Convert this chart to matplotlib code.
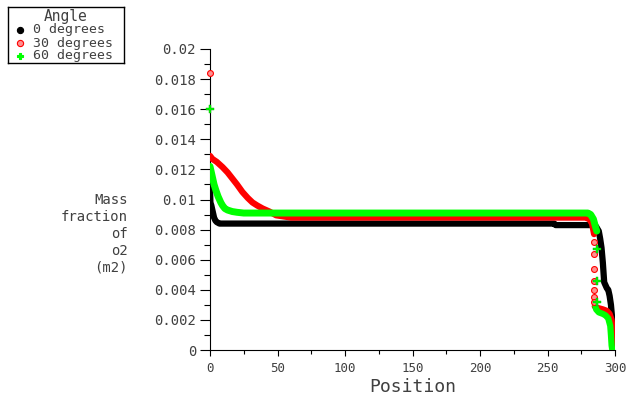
import matplotlib
matplotlib.use('Agg')
from matplotlib import pyplot as plt

matplotlib.rcParams['font.family'] = ['DejaVu Sans Mono']

# 0 degrees
black_pos = [0, 0.3, 1, 2, 3, 4, 5, 7, 50, 150, 255, 256, 283, 286, 288, 289,
             290, 291, 292, 294, 295, 296, 297, 298, 299]
black_val = [0.0107, 0.0098, 0.0096, 0.0092, 0.0088, 0.0086, 0.0085, 0.0084,
             0.0084, 0.0084, 0.0084, 0.0083, 0.0083, 0.0082, 0.0079, 0.0074,
             0.0068, 0.0058, 0.0045, 0.0041, 0.0040, 0.0036, 0.0030, 0.0020, 0.0]

# 30 degrees
red_pos_a = [0, 1.7, 5, 9.3, 13, 16.5, 20, 24, 28, 31.5, 35, 39, 44, 49, 60,
             150, 278, 281, 283, 284.5]
red_val_a = [0.0129, 0.0127, 0.0125, 0.01215, 0.0118, 0.0114, 0.0110, 0.0105,
             0.0101, 0.0098, 0.0096, 0.0094, 0.0092, 0.00895, 0.0088, 0.0088,
             0.0088, 0.0087, 0.0084, 0.0077]
red_pos_b = [285, 287, 291, 294, 296, 297.5, 298.5, 299]
red_val_b = [0.0029, 0.0028, 0.0027, 0.0026, 0.0024, 0.0020, 0.0010, 0.0]
red_pts_pos = [0, 284.7, 284.7, 284.7, 284.7, 284.7, 284.7, 284.7]
red_pts_val = [0.0184, 0.0072, 0.0064, 0.0054, 0.0046, 0.0040, 0.0035, 0.0032]

# 60 degrees
green_pos_a = [0, 1, 2, 3, 4.4, 6, 8, 9.3, 11, 13, 16.5, 20, 25, 50, 150,
               280, 282, 284, 285.5, 286.5]
green_val_a = [0.0122, 0.0118, 0.0114, 0.0110, 0.0106, 0.0102, 0.0098, 0.0096,
               0.0094, 0.0093, 0.0092, 0.00915, 0.0091, 0.0091, 0.0091,
               0.0091, 0.0090, 0.0087, 0.0082, 0.0079]
green_pos_b = [285.5, 286, 288, 291, 293, 295, 296.5, 297, 297.5, 298]
green_val_b = [0.0029, 0.0027, 0.0025, 0.0024, 0.0023, 0.0021, 0.0016, 0.0010,
               0.0003, 0.0]
green_pts_pos = [0, 286.4, 286.4, 286.4]
green_pts_val = [0.0160, 0.0067, 0.0046, 0.0032]

x_ticks = [0, 50, 100, 150, 200, 250, 300]
y_ticks = [0, 0.002, 0.004, 0.006, 0.008, 0.01, 0.012, 0.014, 0.016, 0.018, 0.02]
y_labels = ['0', '0.002', '0.004', '0.006', '0.008', '0.01', '0.012', '0.014',
            '0.016', '0.018', '0.02']
legend_labels = ['0 degrees', '30 degrees', '60 degrees']

black = '#000000'
red = '#ff0000'
green = '#00ff00'
grey = '#404040'

fig = plt.figure(figsize=(6.27, 4.08), dpi=100)
ax = fig.add_axes([210 / 627, 58 / 408, 405 / 627, 301 / 408])

lw = 4.5
ax.plot(black_pos, black_val, color=black, lw=lw, solid_capstyle='round',
        solid_joinstyle='round', zorder=3)
ax.plot(red_pos_a, red_val_a, color=red, lw=lw, solid_capstyle='round',
        solid_joinstyle='round', zorder=4)
ax.plot(red_pos_b, red_val_b, color=red, lw=lw, solid_capstyle='round',
        solid_joinstyle='round', zorder=4)
ax.plot(green_pos_a, green_val_a, color=green, lw=lw + 0.5, solid_capstyle='round',
        solid_joinstyle='round', zorder=5)
ax.plot(green_pos_b, green_val_b, color=green, lw=lw, solid_capstyle='round',
        solid_joinstyle='round', zorder=5)
ax.scatter(red_pts_pos, red_pts_val, s=18, marker='o', facecolor='#ff9090',
           edgecolor=red, linewidth=0.8, zorder=6, clip_on=False)
ax.scatter(green_pts_pos, green_pts_val, s=30, marker='P', color=green,
           edgecolor='#00a000', linewidth=0.3, zorder=7, clip_on=False)

ax.set_xlim(0, 300)
ax.set_ylim(0, 0.02)
ax.spines['top'].set_visible(False)
ax.spines['right'].set_visible(False)
ax.set_xticks(x_ticks)
ax.set_xticklabels([str(t) for t in x_ticks])
ax.set_xticks([25, 75, 125, 175, 225, 275], minor=True)
ax.set_yticks(y_ticks)
ax.set_yticklabels(y_labels)
ax.set_yticks([0.001 + 0.002 * i for i in range(10)], minor=True)
ax.tick_params(axis='y', which='major', length=7, width=0.8, labelsize=10,
               labelcolor=grey, pad=3)
ax.tick_params(axis='y', which='minor', length=4, width=0.8)
ax.tick_params(axis='x', which='major', length=4, width=0.8, labelsize=9,
               labelcolor=grey, pad=5)
ax.tick_params(axis='x', which='minor', length=3, width=0.8)
ax.set_xlabel('Position', fontsize=13, color=grey, labelpad=2)

fig.text(128 / 627, 1 - 234 / 408, 'Mass\nfraction\nof\no2\n(m2)', ha='right',
         va='center', fontsize=10, color=grey, linespacing=1.25)

# legend box
lax = fig.add_axes([8 / 627, 1 - 63 / 408, 116 / 627, 56 / 408])
lax.set_xlim(0, 116)
lax.set_ylim(56, 0)
lax.set_xticks([])
lax.set_yticks([])
for s in lax.spines.values():
    s.set_linewidth(1.0)
lax.text(58, 9, 'Angle', ha='center', va='center', fontsize=10.5, color=grey)
legend_style = [(black, 'o', black), ('#ff9090', 'o', red), (green, 'P', green)]
for i, label in enumerate(legend_labels):
    fc, mk, ec = legend_style[i]
    yy = 23 + i * 13
    lax.scatter([12], [yy], s=20, marker=mk, facecolor=fc, edgecolor=ec,
                linewidth=0.8)
    lax.text(25, yy, label, ha='left', va='center', fontsize=9.5, color=grey,
             clip_on=True)

fig.savefig('out.png', dpi=100)
